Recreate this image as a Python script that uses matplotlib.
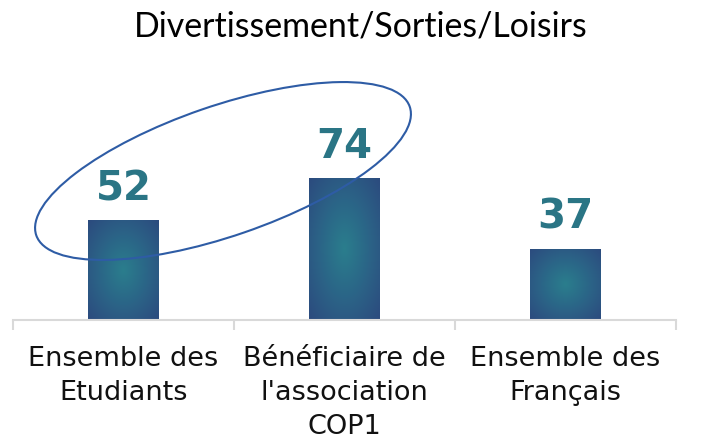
import matplotlib
matplotlib.use('Agg')
import matplotlib.pyplot as plt
import numpy as np
from matplotlib.patches import Ellipse
from matplotlib.colors import LinearSegmentedColormap
import matplotlib.transforms as mtransforms

title = "Divertissement/Sorties/Loisirs"
categories = ["Ensemble des\nEtudiants", "Bénéficiaire de\nl'association\nCOP1", "Ensemble des\nFrançais"]
values = [52, 74, 37]

W, H = 711, 441
fig = plt.figure(figsize=(W / 100, H / 100), dpi=100)
ax = fig.add_axes([13 / W, 121 / H, 663 / W, 192 / H])
x = np.arange(len(values))
bars = ax.bar(x, values, width=0.317, color='none', edgecolor='none', zorder=2)

cmap = LinearSegmentedColormap.from_list('g', ['#2A7E8D', '#2B6487', '#2C4A7E'])
yy, xx = np.mgrid[-1:1:200j, -1:1:200j]
r = np.clip(np.sqrt(xx ** 2 + yy ** 2) / np.sqrt(2), 0, 1)
for b in bars:
    x0, y0 = b.get_x(), b.get_y()
    w, h = b.get_width(), b.get_height()
    im = ax.imshow(r, cmap=cmap, vmin=0, vmax=1, extent=[x0, x0 + w, y0, y0 + h],
                   aspect='auto', origin='lower', interpolation='bilinear', zorder=2)
    im.set_clip_path(b)

for xi, v in zip(x, values):
    ax.annotate(str(v), (xi, v), xytext=(0, 20), textcoords='offset pixels',
                ha='center', va='baseline', fontsize=29, fontweight='bold',
                color='#2A7585', family='DejaVu Sans')

ax.set_xlim(-0.5, len(values) - 0.5)
ax.set_ylim(0, 100)
for s in ['top', 'right', 'left']:
    ax.spines[s].set_visible(False)
ax.spines['bottom'].set_color('#D9D9D9')
ax.spines['bottom'].set_linewidth(1.5)
ax.set_yticks([])
ax.set_xticks(x)
ax.set_xticklabels(categories, fontsize=19.5, color='#111111', linespacing=1.38,
                   family='DejaVu Sans')
ax.tick_params(axis='x', which='major', length=0, pad=19)
ax.set_xticks(np.arange(len(values) + 1) - 0.5, minor=True)
ax.tick_params(axis='x', which='minor', length=7, width=1.5, color='#D9D9D9', direction='out')

fig.text(361 / W, (H - 37) / H, title, ha='center', va='baseline', fontsize=24.4,
         family=['Lato', 'DejaVu Sans'], color='black')

ell = Ellipse((223, H - 171), 395, 130, angle=19, fill=False, edgecolor='#2E5CA5',
              linewidth=1.5, transform=mtransforms.IdentityTransform(), zorder=5)
fig.add_artist(ell)

fig.savefig('out.png', dpi=100)
